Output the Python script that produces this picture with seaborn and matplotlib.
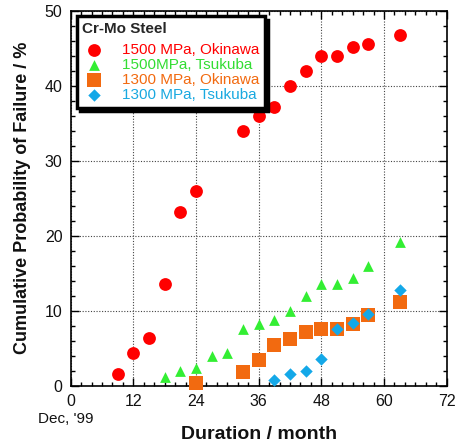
import matplotlib
matplotlib.use("Agg")
import matplotlib.pyplot as plt
import seaborn as sns
import pandas as pd
from matplotlib.ticker import MultipleLocator

sns.set_style("ticks")
plt.rcParams['font.family'] = ['Liberation Sans', 'DejaVu Sans']

# Data
ok1500_month = [9, 12, 15, 18, 21, 24, 33, 36, 39, 42, 45, 48, 51, 54, 57, 63]
ok1500_val = [1.5, 4.4, 6.3, 13.6, 23.2, 26.0, 34.0, 36.0, 37.2, 40.0, 42.0, 44.0, 44.0, 45.2, 45.5, 46.8]

ts1500_month = [18, 21, 24, 27, 30, 33, 36, 39, 42, 45, 48, 51, 54, 57, 63]
ts1500_val = [1.1, 1.9, 2.3, 4.0, 4.4, 7.5, 8.2, 8.7, 9.9, 11.9, 13.5, 13.5, 14.4, 15.9, 19.1]

ok1300_month = [24, 33, 36, 39, 42, 45, 48, 51, 54, 57, 63]
ok1300_val = [0.3, 1.8, 3.4, 5.4, 6.2, 7.1, 7.5, 7.5, 8.2, 9.4, 11.1]

ts1300_month = [39, 42, 45, 48, 51, 54, 57, 63]
ts1300_val = [0.8, 1.5, 2.0, 3.6, 7.6, 8.3, 9.5, 12.8]

labels = ["1500 MPa, Okinawa", "1500MPa, Tsukuba", "1300 MPa, Okinawa", "1300 MPa, Tsukuba"]
colors = ["#FF0000", "#33EE33", "#F26A10", "#14A8E8"]
text_colors = ["#FF0000", "#33DD33", "#F26A10", "#19A9E0"]
markers = ["o", "^", "s", "D"]
sizes = [85, 60, 95, 40]
x_ticks = [0, 12, 24, 36, 48, 60, 72]
y_ticks = [0, 10, 20, 30, 40, 50]

series = [(ok1500_month, ok1500_val), (ts1500_month, ts1500_val),
          (ok1300_month, ok1300_val), (ts1300_month, ts1300_val)]

fig = plt.figure(figsize=(4.58, 4.46), dpi=100)
ax = fig.add_axes([0.1544, 0.1352, 0.8209, 0.8408])

for (mx, vy), lab, c, m, s in zip(series, labels, colors, markers, sizes):
    df = pd.DataFrame({"month": mx, "val": vy})
    sns.scatterplot(data=df, x="month", y="val", ax=ax, marker=m, color=c,
                    s=s, edgecolor=c, linewidth=0, label=lab, zorder=3, clip_on=False)

ax.set_xlim(0, 72)
ax.set_ylim(0, 50)
ax.set_xticks(x_ticks)
ax.set_yticks(y_ticks)
ax.xaxis.set_minor_locator(MultipleLocator(2))
ax.yaxis.set_minor_locator(MultipleLocator(2))
ax.tick_params(which="both", direction="in", top=True, right=True, width=1, colors="black",
               labelsize=11.5, labelcolor="#111111")
ax.tick_params(which="major", length=6, pad=6)
ax.tick_params(which="minor", length=3)
for sp in ax.spines.values():
    sp.set_linewidth(1.2)
    sp.set_color("black")
ax.grid(True, which="major", linestyle=(0, (1, 1.5)), color="#444444", linewidth=0.8)
ax.set_axisbelow(True)

ax.set_xlabel("Duration / month", fontsize=14, fontweight="bold", labelpad=12, color="#111111")
ax.set_ylabel("Cumulative Probability of Failure / %", fontsize=13, fontweight="bold",
              labelpad=10, color="#111111")
ax.annotate("Dec, '99", xy=(0, 0), xycoords="data", xytext=(-3.6, -24),
            textcoords="offset points", ha="center", va="center", fontsize=11, color="#111111",
            annotation_clip=False)

leg = ax.legend(title="Cr-Mo Steel", loc="upper left", bbox_to_anchor=(0.016, 0.985),
                frameon=True, fancybox=False,
                shadow={"color": "black", "alpha": 1, "ox": 2.5, "oy": -2.5},
                fontsize=11,
                title_fontproperties={"weight": "bold", "size": 11},
                borderpad=0.35, labelspacing=0.08, handletextpad=1.0, handlelength=1.6,
                borderaxespad=0.0)
leg._legend_box.align = "left"
leg._legend_box.sep = 5.0
frame = leg.get_frame()
frame.set_edgecolor("black")
frame.set_linewidth(2.5)
frame.set_alpha(1)
for t, c in zip(leg.get_texts(), text_colors):
    t.set_color(c)
leg.set_zorder(5)

fig.savefig("out.png", dpi=100)
